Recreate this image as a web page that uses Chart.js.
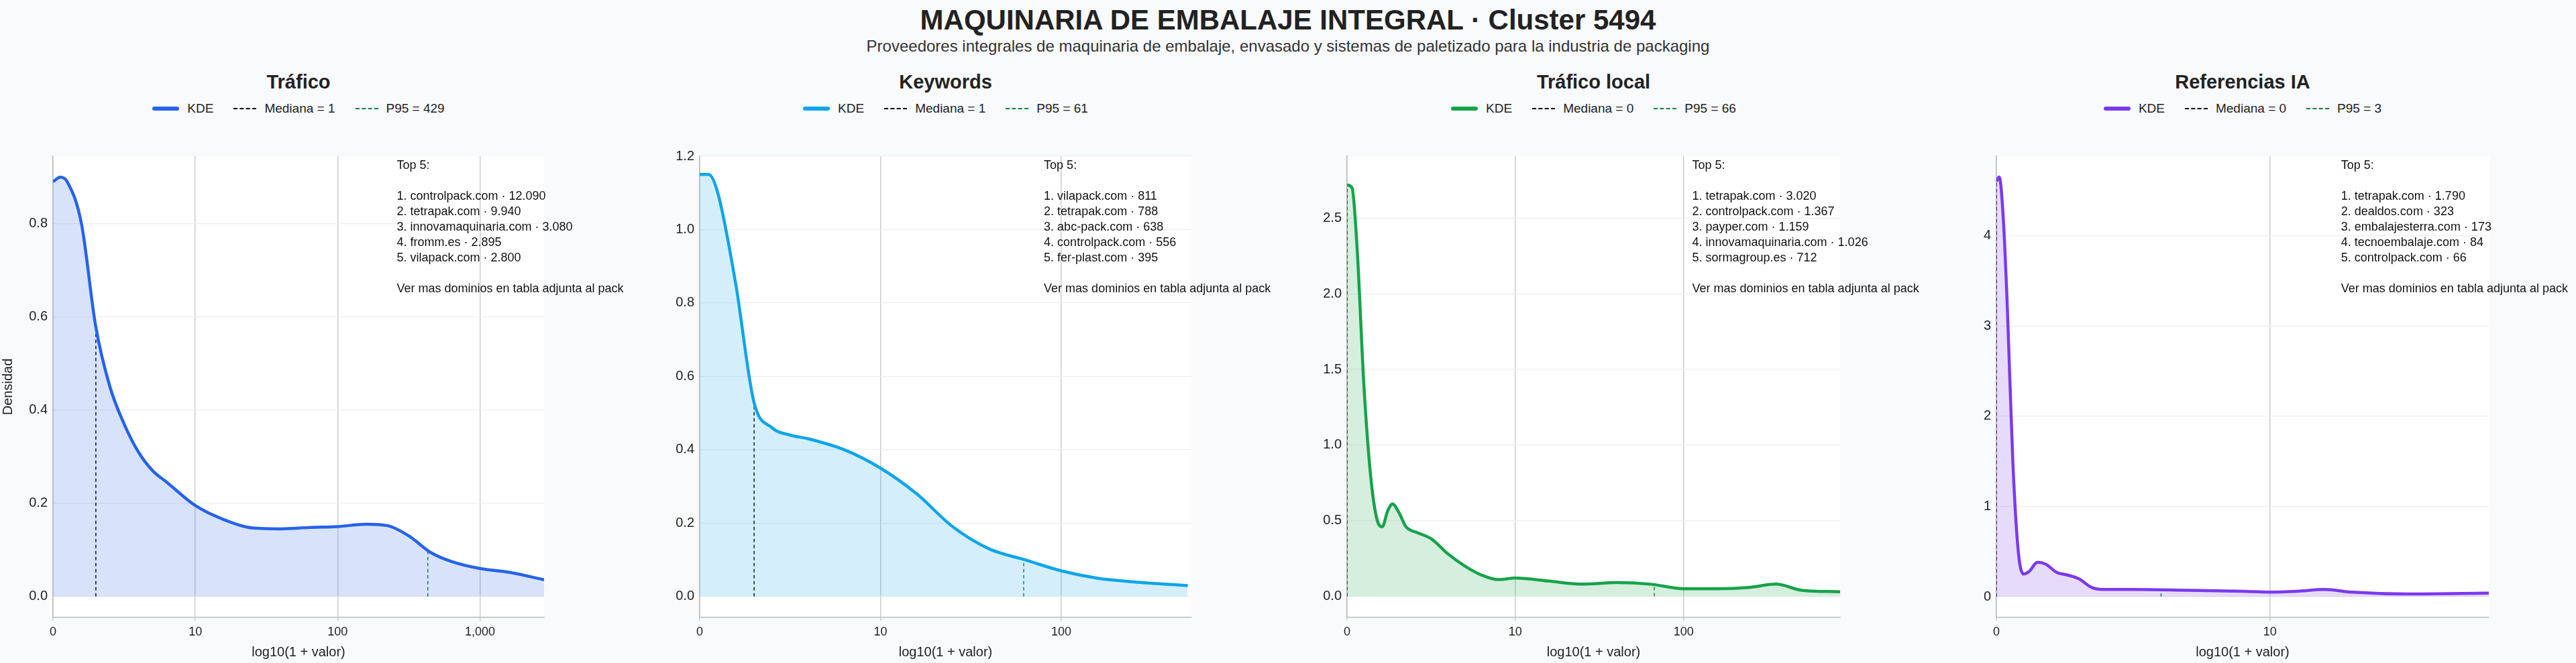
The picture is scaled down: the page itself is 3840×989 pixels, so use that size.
<!DOCTYPE html>
<html>
<head>
<meta charset="utf-8">
<script src="https://cdn.jsdelivr.net/npm/chart.js@4.4.1/dist/chart.umd.min.js"></script>
<style>
  body { margin: 0; width: 3840px; height: 989px; background: #f8fafc; font-family: "Liberation Sans", Arial, sans-serif; position: relative; overflow: hidden; }
  h1 { position: absolute; top: 6px; left: 0; width: 3840px; margin: 0; text-align: center; font-size: 42px; color: #222; }
  .sub { position: absolute; top: 55px; left: 0; width: 3840px; text-align: center; font-size: 24px; color: #333; }
  .ptitle { position: absolute; top: 106px; text-align: center; font-size: 29px; font-weight: bold; color: #222; }
  .legend { position: absolute; top: 151px; display: flex; justify-content: center; gap: 30px; font-size: 19px; color: #222; }
  .legend span { display: inline-flex; align-items: center; gap: 12px; }
  .legend i { display: inline-block; width: 40px; }
  canvas { position: absolute; }
</style>
</head>
<body>
<h1>MAQUINARIA DE EMBALAJE INTEGRAL · Cluster 5494</h1>
<div class="sub">Proveedores integrales de maquinaria de embalaje, envasado y sistemas de paletizado para la industria de packaging</div>
<div id="root"></div>
<script>
const panelTitles = ["Tráfico", "Keywords", "Tráfico local", "Referencias IA"];
const colors = ["#2563eb", "#0ea5e9", "#16a34a", "#7c3aed"];
const fills = ["rgba(37,99,235,0.18)", "rgba(14,165,233,0.18)", "rgba(22,163,74,0.18)", "rgba(124,58,237,0.18)"];
const medians = [1, 1, 0, 0];
const p95s = [429, 61, 66, 3];

const kdeX1 = [0, 0.05, 0.1, 0.2, 0.3, 0.4, 0.5, 0.6, 0.7, 0.8, 1.0, 1.2, 1.4, 1.6, 1.8, 2.0, 2.2, 2.35, 2.5, 2.65, 2.8, 3.0, 3.2, 3.45];
const kdeY1 = [0.89, 0.90, 0.89, 0.80, 0.58, 0.45, 0.37, 0.31, 0.27, 0.245, 0.195, 0.165, 0.147, 0.145, 0.148, 0.150, 0.155, 0.152, 0.13, 0.095, 0.075, 0.06, 0.052, 0.036];
const kdeX2 = [0, 0.05, 0.1, 0.2, 0.3, 0.4, 0.5, 0.6, 0.8, 1.0, 1.2, 1.4, 1.6, 1.8, 2.0, 2.2, 2.4, 2.7];
const kdeY2 = [1.15, 1.15, 1.1, 0.85, 0.53, 0.46, 0.44, 0.43, 0.40, 0.35, 0.28, 0.19, 0.13, 0.10, 0.07, 0.05, 0.04, 0.03];
const kdeX3 = [0, 0.03, 0.06, 0.1, 0.14, 0.18, 0.21, 0.24, 0.27, 0.31, 0.35, 0.42, 0.5, 0.6, 0.7, 0.8, 0.9, 1.0, 1.2, 1.4, 1.6, 1.8, 2.0, 2.2, 2.4, 2.55, 2.7, 2.93];
const kdeY3 = [2.72, 2.7, 2.3, 1.4, 0.8, 0.5, 0.46, 0.56, 0.61, 0.55, 0.46, 0.42, 0.38, 0.28, 0.2, 0.14, 0.11, 0.12, 0.10, 0.08, 0.09, 0.08, 0.05, 0.05, 0.06, 0.08, 0.04, 0.03];
const kdeX4 = [0, 0.01, 0.025, 0.04, 0.06, 0.08, 0.1, 0.12, 0.15, 0.18, 0.22, 0.26, 0.3, 0.35, 0.4, 0.5, 0.7, 0.9, 1.0, 1.1, 1.2, 1.3, 1.5, 1.8];
const kdeY4 = [4.6, 4.65, 4.2, 3.2, 1.5, 0.5, 0.25, 0.28, 0.38, 0.36, 0.27, 0.24, 0.2, 0.1, 0.08, 0.08, 0.07, 0.06, 0.05, 0.06, 0.08, 0.05, 0.03, 0.04];

const xMax = [3.45, 2.72, 2.93, 1.8];
const yMin = [-0.045, -0.057, -0.14, -0.23];
const yMax = [0.945, 1.2, 2.91, 4.88];
const yStep = [0.2, 0.2, 0.5, 1];
const yDecimals = [1, 1, 1, 0];
const xTickLabels = ["0", "10", "100", "1,000"];

const top5 = [
  ["1. controlpack.com · 12.090", "2. tetrapak.com · 9.940", "3. innovamaquinaria.com · 3.080", "4. fromm.es · 2.895", "5. vilapack.com · 2.800"],
  ["1. vilapack.com · 811", "2. tetrapak.com · 788", "3. abc-pack.com · 638", "4. controlpack.com · 556", "5. fer-plast.com · 395"],
  ["1. tetrapak.com · 3.020", "2. controlpack.com · 1.367", "3. payper.com · 1.159", "4. innovamaquinaria.com · 1.026", "5. sormagroup.es · 712"],
  ["1. tetrapak.com · 1.790", "2. dealdos.com · 323", "3. embalajesterra.com · 173", "4. tecnoembalaje.com · 84", "5. controlpack.com · 66"],
];

const plotLeft = [79, 1043, 2008, 2976];
const plotRight = [811, 1776, 2743, 3710];
const kdeXs = [kdeX1, kdeX2, kdeX3, kdeX4];
const kdeYs = [kdeY1, kdeY2, kdeY3, kdeY4];

function interp(xs, ys, x) {
  for (let i = 1; i < xs.length; i++) {
    if (x <= xs[i]) {
      const t = (x - xs[i - 1]) / (xs[i] - xs[i - 1]);
      return ys[i - 1] + t * (ys[i] - ys[i - 1]);
    }
  }
  return ys[ys.length - 1];
}

const plotBg = {
  id: "plotBg",
  beforeDraw(chart) {
    const a = chart.chartArea, c = chart.ctx;
    c.save();
    c.fillStyle = "#fff";
    c.fillRect(a.left, a.top, a.right - a.left, a.bottom - a.top);
    c.restore();
  },
};

const topText = {
  id: "topText",
  afterDraw(chart, args, opts) {
    const a = chart.chartArea, c = chart.ctx;
    const x = a.left + 0.7 * (a.right - a.left);
    let y = a.top + 14;
    c.save();
    c.font = "18px 'Liberation Sans', Arial, sans-serif";
    c.fillStyle = "#111";
    c.textBaseline = "middle";
    c.fillText("Top 5:", x, y);
    y += 46;
    for (const line of opts.lines) { c.fillText(line, x, y); y += 23; }
    y += 23;
    c.fillText("Ver mas dominios en tabla adjunta al pack", x, y);
    c.restore();
  },
};

const root = document.getElementById("root");
const AXIS_W = 79, PAD_R = 140, TOP = 213;

panelTitles.forEach((title, i) => {
  const w = plotRight[i] - plotLeft[i];
  const t = document.createElement("div");
  t.className = "ptitle";
  t.style.left = plotLeft[i] + "px";
  t.style.width = w + "px";
  t.textContent = title;
  root.appendChild(t);

  const lg = document.createElement("div");
  lg.className = "legend";
  lg.style.left = plotLeft[i] + "px";
  lg.style.width = w + "px";
  lg.innerHTML = `
    <span><i style="border-top:6px solid ${colors[i]};border-radius:3px"></i>KDE</span>
    <span><i style="border-top:2px dashed #000;width:34px"></i>Mediana = ${medians[i]}</span>
    <span><i style="border-top:2px dashed #15803d;width:34px"></i>P95 = ${p95s[i]}</span>`;
  root.appendChild(lg);

  const cv = document.createElement("canvas");
  const cw = w + AXIS_W + PAD_R, ch = 989 - TOP;
  cv.width = cw;
  cv.height = ch;
  cv.style.left = (plotLeft[i] - AXIS_W) + "px";
  cv.style.top = TOP + "px";
  cv.style.width = cw + "px";
  cv.style.height = ch + "px";
  root.appendChild(cv);

  const xs = kdeXs[i], ys = kdeYs[i];
  const mx = Math.log10(1 + medians[i]);
  const px = Math.log10(1 + p95s[i]);

  new Chart(cv, {
    type: "line",
    data: {
      datasets: [
        {
          data: xs.map((x, k) => ({ x, y: ys[k] })),
          borderColor: colors[i], borderWidth: 4.5, backgroundColor: fills[i],
          fill: "origin", pointRadius: 0, cubicInterpolationMode: "monotone",
        },
        {
          data: [{ x: mx, y: 0 }, { x: mx, y: interp(xs, ys, mx) }],
          borderColor: "#000", borderWidth: 1.5, borderDash: [5, 4], pointRadius: 0, fill: false,
        },
        {
          data: [{ x: px, y: 0 }, { x: px, y: interp(xs, ys, px) }],
          borderColor: "#15803d", borderWidth: 1.5, borderDash: [5, 4], pointRadius: 0, fill: false,
        },
      ],
    },
    options: {
      responsive: false,
      animation: false,
      devicePixelRatio: 1,
      layout: { padding: { top: 10, right: PAD_R, left: 0, bottom: 0 } },
      plugins: { legend: { display: false }, tooltip: { enabled: false }, topText: { lines: top5[i] } },
      scales: {
        x: {
          type: "linear", min: 0, max: xMax[i],
          afterBuildTicks: (s) => { s.ticks = [0, 1, 2, 3].filter((v) => v <= xMax[i]).map((v) => ({ value: v })); },
          afterFit: (s) => { s.height = 68; },
          ticks: { callback: (v) => xTickLabels[v], color: "#222", font: { size: 18, family: "Liberation Sans" }, padding: 6 },
          grid: { color: "#cccccc", lineWidth: 1.5, drawTicks: true, tickLength: 5 },
          border: { color: "#bbbbbb", width: 1.5 },
          title: { display: true, text: "log10(1 + valor)", color: "#222", font: { size: 20, family: "Liberation Sans" }, padding: { top: 2 } },
        },
        y: {
          min: yMin[i], max: yMax[i],
          afterBuildTicks: (s) => {
            const out = [];
            for (let v = 0; v <= yMax[i] + 1e-9; v += yStep[i]) out.push({ value: +v.toFixed(3) });
            s.ticks = out;
          },
          afterFit: (s) => { s.width = AXIS_W; },
          ticks: { callback: (v) => v.toFixed(yDecimals[i]), color: "#222", font: { size: 20, family: "Liberation Sans" }, padding: 8 },
          grid: { color: "#eeeeee", lineWidth: 1.2, drawTicks: false },
          border: { color: "#bbbbbb", width: 1.5 },
          title: { display: i === 0, text: "Densidad", color: "#222", font: { size: 20, family: "Liberation Sans" }, padding: 0 },
        },
      },
    },
    plugins: [plotBg, topText],
  });
});
</script>
</body>
</html>
